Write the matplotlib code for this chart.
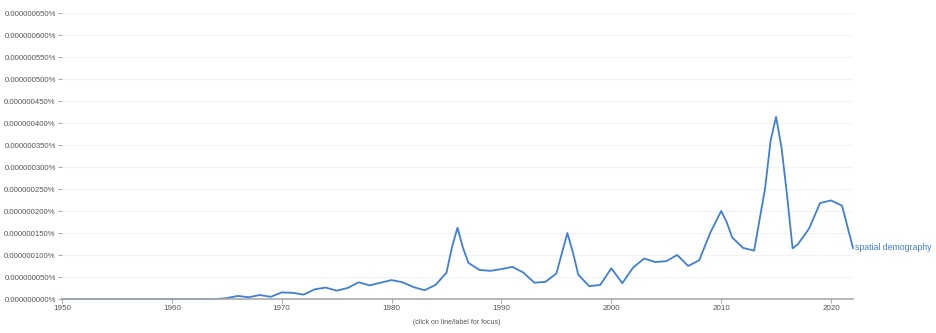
import numpy as np
import matplotlib
matplotlib.use("Agg")
import matplotlib.pyplot as plt

plt.rcParams['font.family'] = ['Liberation Sans', 'DejaVu Sans']

# ngram frequency, units of 1e-9 percent (extra half-year readings at the peaks)
years = list(range(1950, 1985)) + [
    1985, 1985.5, 1986, 1986.5, 1987, 1988, 1989, 1990, 1991, 1992, 1993, 1994,
    1995, 1995.5, 1996, 1996.5, 1997, 1998, 1999, 2000, 2001, 2002, 2003, 2004,
    2005, 2006, 2007, 2008, 2009, 2009.5, 2010, 2010.5, 2011, 2012, 2013,
    2014, 2014.5, 2015, 2015.5, 2016, 2016.5, 2017, 2018, 2019, 2020, 2021, 2022,
]
freq = [0] * 15 + [
    2, 7, 4, 9, 5,                 # 1965-1969
    15, 14, 10, 22, 26,            # 1970-1974
    19, 25, 38, 31, 37,            # 1975-1979
    43, 38, 27, 20, 32,            # 1980-1984
    60, 118, 162, 116, 82, 66, 64, 68, 73, 60, 37, 39,
    58, 104, 150, 106, 55, 29, 32, 70, 36, 72, 92, 84,
    86, 100, 75, 88, 150, 175, 200, 175, 140, 116, 110,
    252, 360, 414, 343, 235, 115, 125, 160, 218, 224, 212, 116,
]
label = "spatial demography"
yticks = list(range(0, 651, 50))
xticks = list(range(1950, 2021, 10))

line_color = "#3f7fd4"
text_color = "#555555"

fig = plt.figure(figsize=(9.36, 3.33), dpi=100)
ax = fig.add_axes([62 / 936, 1 - 299 / 333, (853 - 62) / 936, (299 - 13) / 333])

ax.plot(years, freq, color=line_color, lw=1.3, clip_on=False,
        solid_joinstyle="round")
ax.text(years[-1] + 0.2, freq[-1], label, color=line_color, fontsize=6.3,
        va="center", ha="left")

ax.set_xlim(1950, 2022)
ax.set_ylim(0, 650)
ax.set_yticks(yticks)
ax.set_yticklabels([f"{v * 1e-9:.9f}%" for v in yticks])
ax.set_xticks(xticks)
ax.set_xticklabels([str(x) for x in xticks])

for v in yticks[1:]:
    ax.axhline(v, color="#f3f3f3", lw=0.8, zorder=0)

for s in ["top", "right", "left"]:
    ax.spines[s].set_visible(False)
ax.spines["bottom"].set_color("#aaaaaa")
ax.spines["bottom"].set_linewidth(1.2)

ax.tick_params(axis="y", length=3, width=0.6, color="#999999", labelsize=5.6,
               labelcolor=text_color, pad=1.5)
ax.tick_params(axis="x", length=3, width=0.6, color="#999999", labelsize=5.8,
               labelcolor=text_color, pad=1)

fig.text(457 / 936, 1 - 323 / 333, "(click on line/label for focus)",
         fontsize=5, color=text_color, ha="center", va="center")

fig.savefig("out.png", dpi=100)
